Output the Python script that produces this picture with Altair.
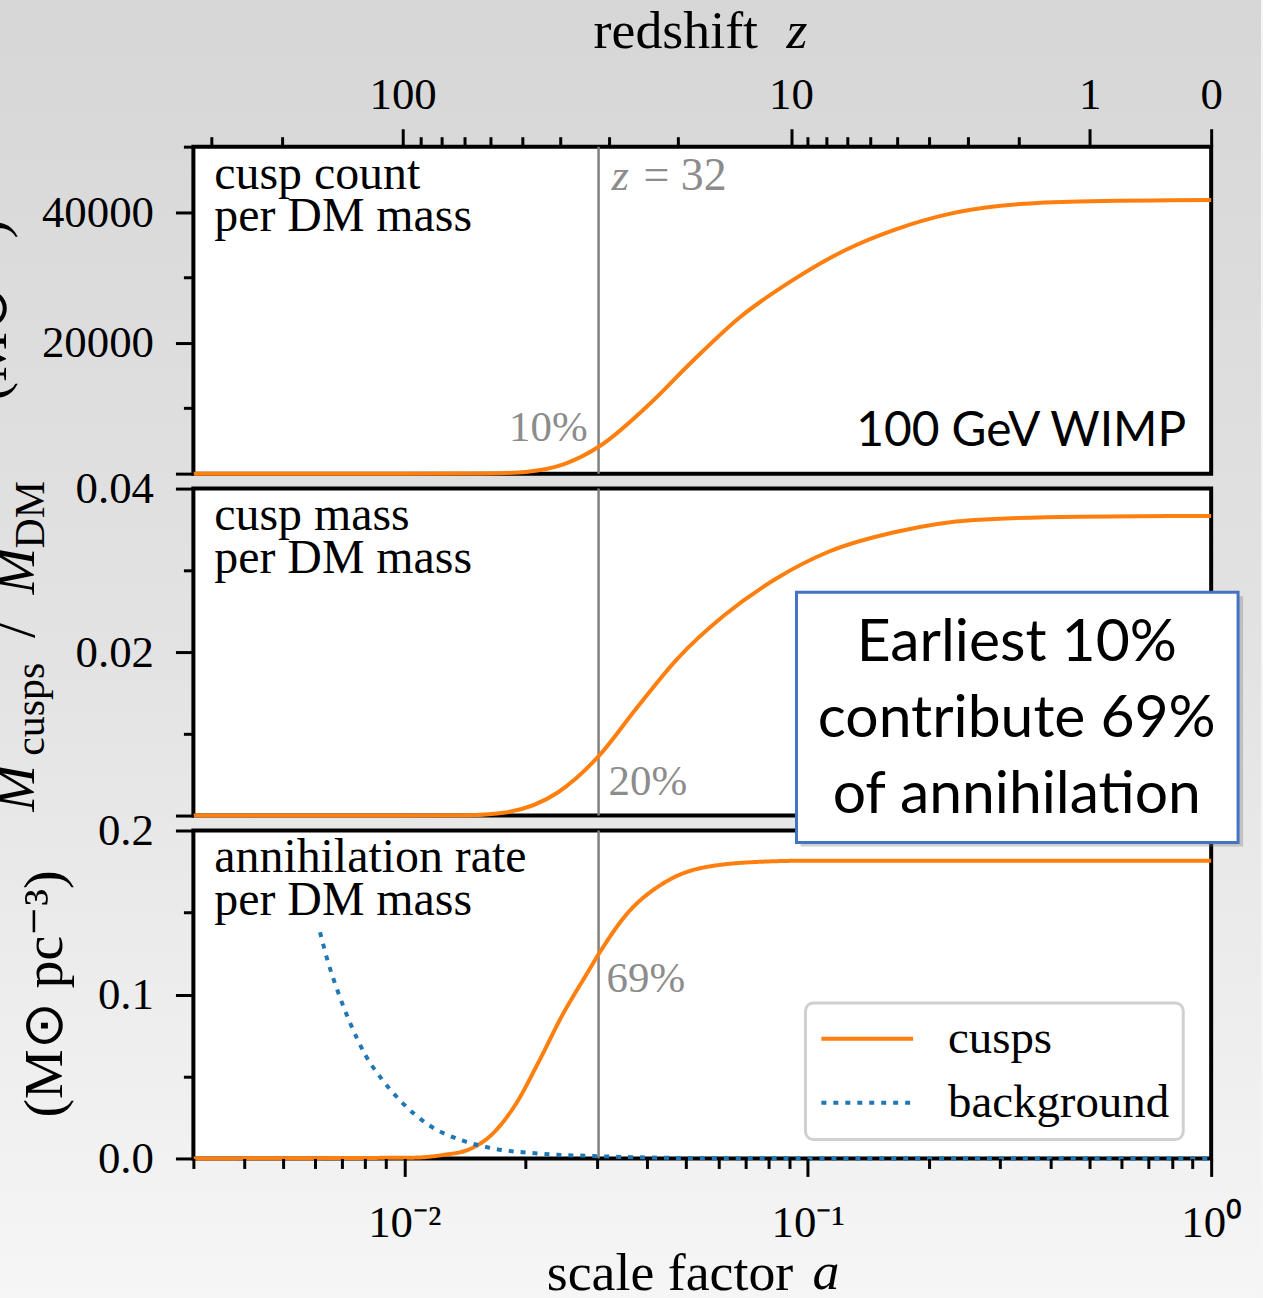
import altair as alt
import pandas as pd

# ---------------- data ----------------
# top panel: cusp count per DM mass (per solar mass)
A_COUNT = [0.003, 0.010, 0.0146, 0.0178, 0.0200, 0.0250, 0.0304, 0.0398, 0.0520, 0.0679,
           0.0914, 0.123, 0.166, 0.223, 0.301, 0.470, 1.0]
N_COUNT = [0, 0, 30, 100, 260, 1500, 4150, 10180, 17300, 23920,
           29510, 34090, 37400, 39690, 40960, 41630, 41830]

# middle panel: cusp mass per DM mass
A_MASS = [0.003, 0.010, 0.0146, 0.0178, 0.0240, 0.0304, 0.0375, 0.0475, 0.0621, 0.0836,
          0.1126, 0.166, 0.259, 0.470, 1.0]
M_MASS = [0, 0, 0.00005, 0.00037, 0.00282, 0.00733, 0.01304, 0.01918, 0.0245, 0.0290,
          0.03227, 0.03472, 0.03616, 0.03656, 0.03665]

# bottom panel: annihilation rate per DM mass (cusps)
A_RATE = [0.003, 0.0105, 0.01256, 0.01439, 0.01644, 0.01883, 0.02154, 0.02464, 0.02819,
          0.03053, 0.03533, 0.04424, 0.05537, 0.07756, 0.1012, 1.0]
R_RATE = [0, 0.0005, 0.00225, 0.00529, 0.0144, 0.0326, 0.0590, 0.0874, 0.1117,
          0.1258, 0.1481, 0.1684, 0.1775, 0.1810, 0.1816, 0.1816]

# bottom panel: background
A_BG = [0.00618, 0.00647, 0.00685, 0.00732, 0.00801, 0.00877, 0.00982, 0.01148, 0.01375,
        0.01644, 0.02154, 0.0302, 0.05537, 0.1, 0.3, 1.0]
R_BG = [0.138, 0.1198, 0.1015, 0.0833, 0.0630, 0.0488, 0.0347, 0.0205, 0.0114,
        0.0063, 0.0030, 0.0014, 0.0002, 0.00005, 0.0, 0.0]

Z_MARK = 32
SERIES = ["cusps", "background"]
X_DOMAIN = [0.003, 1.0]
Y1_DOMAIN = [0, 50000]
Y2_DOMAIN = [0, 0.04]
Y3_DOMAIN = [0, 0.2]
Y1_TICKS = [0, 10000, 20000, 30000, 40000, 50000]
Y2_TICKS = [0, 0.01, 0.02, 0.03, 0.04]
Y3_TICKS = [0, 0.05, 0.1, 0.15, 0.2]
Z_TICKS = [300, 200, 100, 90, 80, 70, 60, 50, 40, 30, 20, 10, 9, 8, 7, 6, 5, 4, 3, 2, 1, 0]
A_TICKS = [0.003, 0.004, 0.005, 0.006, 0.007, 0.008, 0.009,
           0.01, 0.02, 0.03, 0.04, 0.05, 0.06, 0.07, 0.08, 0.09,
           0.1, 0.2, 0.3, 0.4, 0.5, 0.6, 0.7, 0.8, 0.9, 1.0]

# ---------------- styling ----------------
SERIF = "Liberation Serif"
SANS = "Lato"
ORANGE = "#ff7f0e"
BLUE = "#1f77b4"
GRAY = "#808080"
NOTE = "#8c8c8c"
W = 1021
H1, H2, H3 = 328, 328, 329
TITLE_SIZE = 54
# page canvas framing (background panel reaches past the page; padding trims it)
BG_LEFT, BG_TOP = 240, 170
PLOT_LEFT, PLOT_TOP = 192, 143

df_count = pd.DataFrame({"a": A_COUNT, "v": N_COUNT})
df_mass = pd.DataFrame({"a": A_MASS, "v": M_MASS})
df_rate = pd.concat([
    pd.DataFrame({"a": A_RATE, "v": R_RATE, "series": SERIES[0]}),
    pd.DataFrame({"a": A_BG, "v": R_BG, "series": SERIES[1]}),
], ignore_index=True)
df_z = pd.DataFrame({"a": [1.0 / (1 + Z_MARK)]})
one = pd.DataFrame({"k": [0]})

xscale = alt.Scale(type="log", domain=X_DOMAIN, nice=False)

Z_MAJOR = "indexof([100,10,1,0], round(1/datum.value - 1)) >= 0"
top_axis = alt.Axis(
    orient="top", zindex=1,
    values=[1.0 / (1 + z) for z in Z_TICKS],
    labelExpr=f"{Z_MAJOR} ? format(round(1/datum.value - 1), 'd') : ''",
    tickSize={"condition": {"test": Z_MAJOR, "value": 18}, "value": 10},
    labelBaseline="alphabetic", labelPadding=20,
    title="redshift", titleX=401, titleY=-99, titleAlign="left", titleBaseline="alphabetic",
)
A_MAJOR = "datum.value == 0.01 || datum.value == 0.1 || datum.value == 1"
bottom_axis = alt.Axis(
    orient="bottom", zindex=1,
    values=A_TICKS,
    labelExpr="datum.value == 0.01 ? '10⁻²' : datum.value == 0.1 ? '10⁻¹' : datum.value == 1 ? '10⁰' : ''",
    tickSize={"condition": {"test": A_MAJOR, "value": 18}, "value": 10},
    labelBaseline="alphabetic", labelPadding=60,
    title="scale factor", titleX=354, titleY=131, titleAlign="left", titleBaseline="alphabetic",
)


def yaxis(values, expr, major):
    return alt.Axis(values=values, labelExpr=expr, zindex=1,
                    tickSize={"condition": {"test": major, "value": 18}, "value": 10},
                    labelPadding=22, labelBaseline="middle", title=None)


def xq(axis):
    return alt.X("a:Q", scale=xscale, axis=axis)


def vline(axis):
    return alt.Chart(df_z).mark_rule(color=GRAY, strokeWidth=2.5).encode(x=xq(axis))


def panel_label(lines):
    return alt.Chart(one).mark_text(text=lines, font=SERIF, fontSize=48, lineHeight=43,
                                    align="left", baseline="alphabetic", color="black"
                                    ).encode(x=alt.value(21), y=alt.value(42))


def pct(text, axis, dx, y, align):
    return alt.Chart(df_z).mark_text(text=text, font=SERIF, fontSize=43, color=NOTE,
                                     align=align, baseline="alphabetic", dx=dx
                                     ).encode(x=xq(axis), y=alt.value(y))


def ptext(text, x, y, size, italic=False, align="left", angle=0):
    kw = dict(text=text, font=SERIF, fontSize=size, align=align,
              baseline="alphabetic", color="black")
    if angle:
        kw["angle"] = angle
    if italic:
        kw["fontStyle"] = "italic"
    return alt.Chart(one).mark_text(**kw).encode(x=alt.value(x), y=alt.value(y))


# ---------------- top panel ----------------
bg = alt.Chart(one).mark_rect(
    color=alt.LinearGradient(
        gradient="linear", x1=0, y1=0, x2=0, y2=1,
        stops=[alt.GradientStop(color="#d6d6d6", offset=0),
               alt.GradientStop(color="#e3e3e3", offset=0.5),
               alt.GradientStop(color="#f7f7f7", offset=1)])
).encode(x=alt.value(-BG_LEFT), x2=alt.value(1071), y=alt.value(-BG_TOP), y2=alt.value(1200))

frame_top = alt.Chart(one).mark_rect(fill="white", stroke="black", strokeWidth=4).encode(
    x=alt.value(0), x2=alt.value(W), y=alt.value(0), y2=alt.value(H1))

y1 = alt.Y("v:Q", scale=alt.Scale(domain=Y1_DOMAIN, nice=False, zero=False),
           axis=yaxis(Y1_TICKS,
                      "datum.value == 20000 || datum.value == 40000 ? format(datum.value, 'd') : ''",
                      "datum.value % 20000 == 0"))
line_top = alt.Chart(df_count).mark_line(color=ORANGE, strokeWidth=4, interpolate="monotone").encode(
    x=xq(top_axis), y=y1)

z_sym = alt.Chart(df_z).mark_text(text="z", font=SERIF, fontSize=45, fontStyle="italic", color=NOTE,
                                  align="left", baseline="alphabetic", dx=13).encode(
    x=xq(top_axis), y=alt.value(43))
z_eq = alt.Chart(df_z).mark_text(text="= 32", font=SERIF, fontSize=46, color=NOTE,
                                 align="left", baseline="alphabetic", dx=45).encode(
    x=xq(top_axis), y=alt.value(43))
wimp = alt.Chart(one).mark_text(text="100 GeV WIMP", font=SANS, fontSize=48, color="black",
                                align="right", baseline="alphabetic").encode(
    x=alt.value(996), y=alt.value(300))

top = alt.layer(
    bg, frame_top, vline(top_axis), line_top,
    panel_label(["cusp count", "per DM mass"]),
    z_sym, z_eq, pct("10%", top_axis, -11, 295, "right"), wimp,
    ptext("z", 595, -99, TITLE_SIZE, italic=True),
    ptext("(M⊙⁻¹)", -188, 164, 56, align="center", angle=270),
).properties(width=W, height=H1)

# ---------------- middle panel ----------------
y2 = alt.Y("v:Q", scale=alt.Scale(domain=Y2_DOMAIN, nice=False, zero=False),
           axis=yaxis(Y2_TICKS,
                      "round(datum.value*100) == 2 || round(datum.value*100) == 4 ? format(datum.value, '.2f') : ''",
                      "round(datum.value*100) % 2 == 0"))
line_mid = alt.Chart(df_mass).mark_line(color=ORANGE, strokeWidth=4, interpolate="monotone").encode(
    x=xq(None), y=y2)

mid = alt.layer(
    vline(None), line_mid,
    panel_label(["cusp mass", "per DM mass"]),
    pct("20%", None, 10, 307, "left"),
    ptext("M", -160, 324, 56, italic=True, angle=270),
    ptext("cusps", -150, 268, 42, angle=270),
    ptext("/", -160, 150, 56, angle=270),
    ptext("M", -160, 106, 56, italic=True, angle=270),
    ptext("DM", -150, 60, 42, angle=270),
).properties(width=W, height=H2)

# ---------------- bottom panel ----------------
y3 = alt.Y("v:Q", scale=alt.Scale(domain=Y3_DOMAIN, nice=False, zero=False),
           axis=yaxis(Y3_TICKS,
                      "round(datum.value*20) % 2 == 0 ? format(datum.value, '.1f') : ''",
                      "round(datum.value*20) % 2 == 0"))
lines_bot = alt.Chart(df_rate).mark_line(strokeWidth=4, interpolate="monotone", strokeCap="butt").encode(
    x=xq(bottom_axis), y=y3,
    color=alt.Color("series:N", scale=alt.Scale(domain=SERIES, range=[ORANGE, BLUE]),
                    legend=alt.Legend(title=None)),
    strokeDash=alt.StrokeDash("series:N", scale=alt.Scale(domain=SERIES, range=[[1, 0], [5, 7]]),
                              legend=alt.Legend(title=None)),
    order=alt.Order("series:N", sort="descending"),
)

shadow = alt.Chart(one).mark_rect(fill="#7a7a7a", opacity=0.35).encode(
    x=alt.value(609), x2=alt.value(1053), y=alt.value(-235), y2=alt.value(16))
box = alt.Chart(one).mark_rect(fill="white", stroke="#4472C4", strokeWidth=3).encode(
    x=alt.value(605), x2=alt.value(1048), y=alt.value(-239), y2=alt.value(12))
box_text = alt.Chart(one).mark_text(
    text=["Earliest 10%", "contribute 69%", "of annihilation"], font=SANS, fontSize=59,
    lineHeight=76, align="center", baseline="alphabetic", color="black").encode(
    x=alt.value(826), y=alt.value(-170))

bot = alt.layer(
    vline(bottom_axis), lines_bot,
    panel_label(["annihilation rate", "per DM mass"]),
    pct("69%", bottom_axis, 8, 162, "left"),
    ptext("(M⊙ pc⁻³)", -132, 164, 56, align="center", angle=270),
    ptext("a", 621, 460, TITLE_SIZE, italic=True),
    shadow, box, box_text,
).properties(width=W, height=H3)

chart = alt.vconcat(top, mid, bot, spacing=15, bounds="flush").resolve_scale(
    x="independent", y="independent", color="independent", strokeDash="independent"
).properties(
    padding={"left": PLOT_LEFT - BG_LEFT, "top": PLOT_TOP - BG_TOP, "right": 0, "bottom": 0}
).configure(
    background="#f5f5f5"
).configure_view(
    stroke="black", strokeWidth=4, fill="white"
).configure_axis(
    labelFont=SERIF, labelFontSize=45, labelColor="black", tickColor="black", tickWidth=3,
    domain=False, grid=False, titleFont=SERIF, titleFontSize=TITLE_SIZE,
    titleFontWeight="normal", titleColor="black", labelFlush=False, labelOverlap=False,
    labelBound=False,
).configure_legend(
    orient="none", legendX=614, legendY=173, fillColor="white",
    strokeColor="#d0d0d0", strokeWidth=3, cornerRadius=8, padding=14,
    symbolType="stroke", symbolSize=8464, symbolStrokeWidth=4, clipHeight=44,
    rowPadding=17, labelFont=SERIF, labelFontSize=47, labelColor="black",
    labelOffset=33, labelLimit=400,
)

chart.save("out.html", embed_options={"renderer": "svg", "actions": False})
